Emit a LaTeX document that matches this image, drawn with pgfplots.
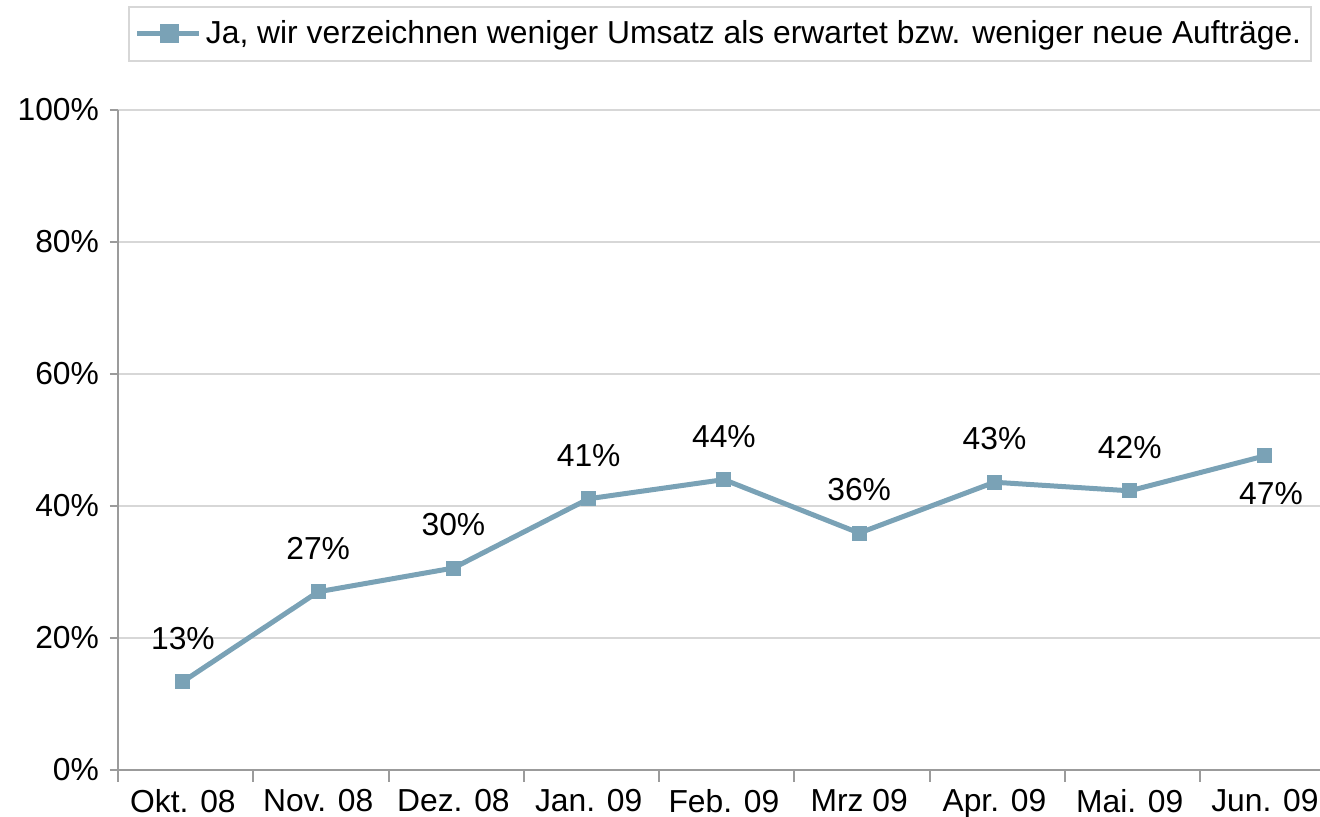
\documentclass[border=0pt]{standalone}
\usepackage{fontspec}
\setmainfont{Liberation Sans}
\usepackage{pgfplots}
\pgfplotsset{compat=1.18}
\definecolor{linieblau}{RGB}{122,162,182}
\definecolor{achsgrau}{RGB}{155,155,155}
\definecolor{gitter}{RGB}{215,215,215}

\begin{document}
\begin{tikzpicture}
\begin{axis}[
  name=ax,
  scale only axis,
  width=601pt, height=330pt,
  font=\fontsize{15.9}{18}\selectfont,
  /pgf/number format/assume math mode=true,
  xmin=-0.48, xmax=8.407,
  ymin=0, ymax=100,
  axis x line*=bottom,
  axis y line*=left,
  axis line style={achsgrau, line width=1pt},
  xtick={0,...,8},
  xticklabels={Okt. 08, Nov. 08, Dez. 08, Jan. 09, Feb. 09, Mrz 09, Apr. 09, Mai. 09, Jun. 09},
  major x tick style={draw=none},
  minor xtick={-0.48,0.52,1.52,2.52,3.52,4.52,5.52,6.52,7.52},
  minor x tick style={achsgrau, line width=1pt},
  minor tick length=6pt,
  xticklabel style={yshift=-2pt},
  ytick={0,20,...,100},
  yticklabel={\pgfmathprintnumber{\tick}\%},
  yticklabel style={xshift=-2pt},
  ytick style={achsgrau, line width=1pt},
  major tick length=4pt,
  tick align=outside,
  ymajorgrids,
  grid style={gitter, line width=1pt},
  legend style={at={(axis description cs:0,1)}, anchor=south west,
    xshift=5pt, yshift=24pt, draw=gitter, line width=1pt,
    inner xsep=3pt, inner ysep=5pt,
    font=\fontsize{15.9}{18}\selectfont},
  legend cell align=left,
  legend image code/.code={
    \draw[linieblau, line width=2.5pt] (0pt,0pt) -- (31pt,0pt);
    \fill[linieblau] (12.5pt,-3.5pt) rectangle (19.5pt,3.5pt);
  },
  clip=false,
]
\addplot[linieblau, line width=2.5pt, mark=square*, mark size=3.5pt,
  mark options={fill=linieblau, draw=linieblau, line width=0pt}]
  coordinates {(0,13.4) (1,27.0) (2,30.6) (3,41.1) (4,44.0) (5,35.9) (6,43.6) (7,42.3) (8,47.6)};
\addlegendentry{Ja, wir verzeichnen weniger Umsatz als erwartet bzw. weniger neue Aufträge.}

\addplot[draw=none, mark=none, forget plot,
  nodes near coords, point meta=explicit symbolic,
  every node near coord/.append style={anchor=south, yshift=12.5pt, text=black}]
  coordinates {(0,13.4) [13\%] (1,27.0) [27\%] (2,30.6) [30\%] (3,41.1) [41\%]
    (4,44.0) [44\%] (5,35.9) [36\%] (6,43.6) [43\%] (7,42.3) [42\%]};
\addplot[draw=none, mark=none, forget plot,
  nodes near coords, point meta=explicit symbolic,
  every node near coord/.append style={anchor=north, xshift=3pt, yshift=-10pt, text=black}]
  coordinates {(8,47.6) [47\%]};
\end{axis}
\pgfresetboundingbox
\path ([xshift=-59pt,yshift=-23.5pt]ax.south west) rectangle ([yshift=55pt]ax.north east);
\end{tikzpicture}
\end{document}
